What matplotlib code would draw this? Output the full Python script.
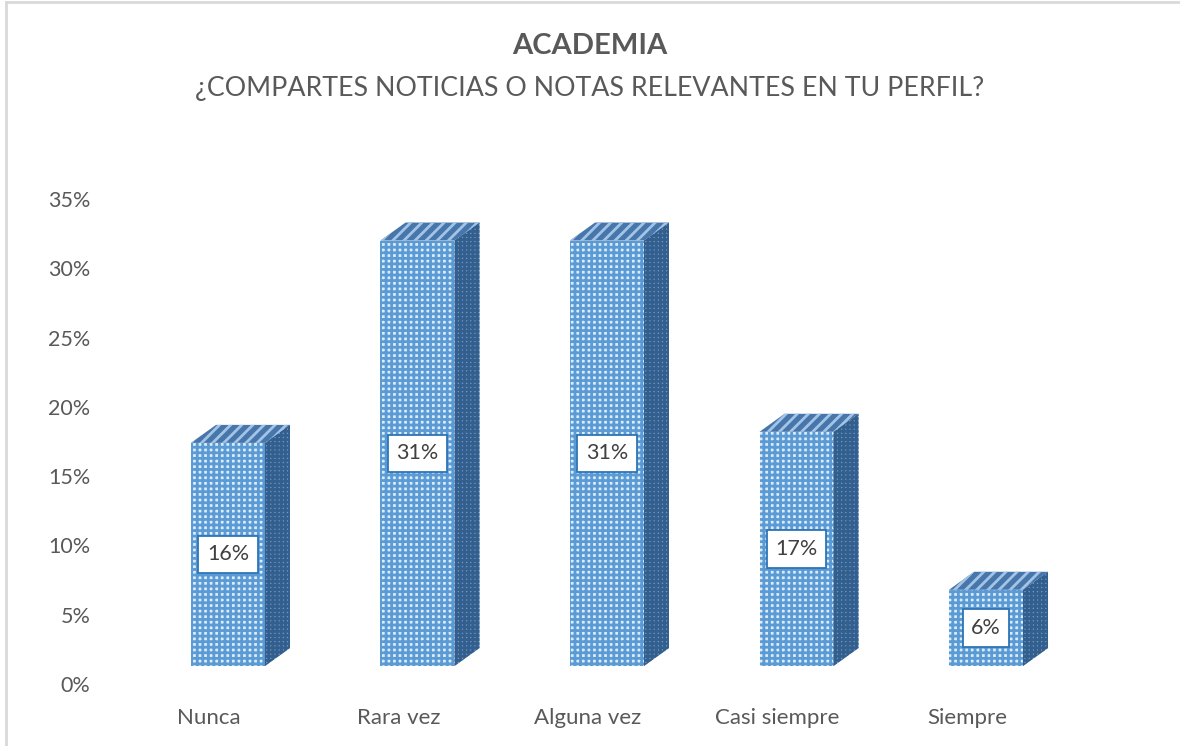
import matplotlib.pyplot as plt
import matplotlib.transforms as mtransforms
from matplotlib.patches import Polygon, Rectangle
from matplotlib.lines import Line2D

# Data
categories = ['Nunca', 'Rara vez', 'Alguna vez', 'Casi siempre', 'Siempre']
values = [0.161, 0.307, 0.307, 0.169, 0.055]
labels = ['16%', '31%', '31%', '17%', '6%']
yticks = [0, 0.05, 0.10, 0.15, 0.20, 0.25, 0.30, 0.35]

plt.rcParams['font.family'] = ['Lato', 'DejaVu Sans']
plt.rcParams['hatch.linewidth'] = 2.0

fig = plt.figure(figsize=(11.8, 7.46), dpi=100)
ax = fig.add_axes([0.0968, 0.0831, 0.803, 0.6502])
ax.set_xlim(-0.5, len(categories) - 0.5)
ax.set_ylim(0, 0.35)

# pixel -> data conversion for the fake 3D depth
px_x = ax.bbox.width / (len(categories))
px_y = ax.bbox.height / 0.35
bar_w = 74 / px_x
depth_x = 25 / px_x
depth_y = 18 / px_y

# bars sit a bit in front of the back wall (perspective)
trans = mtransforms.offset_copy(ax.transData, fig=fig, x=19, y=18, units='dots')

for i, v in enumerate(values):
    x0 = i - bar_w / 2
    x1 = i + bar_w / 2
    # front face
    ax.add_patch(Rectangle((x0, 0), bar_w, v, facecolor='#DCEBF8',
                           edgecolor='#5B9BD5', hatch='+++', linewidth=0,
                           transform=trans, zorder=3))
    # side face
    ax.add_patch(Polygon([(x1, 0), (x1 + depth_x, depth_y),
                          (x1 + depth_x, v + depth_y), (x1, v)],
                         closed=True, facecolor='#7096C0', edgecolor='#335F8E',
                         hatch='++++', linewidth=0, transform=trans, zorder=3))
    # top face
    ax.add_patch(Polygon([(x0, v), (x1, v), (x1 + depth_x, v + depth_y),
                          (x0 + depth_x, v + depth_y)],
                         closed=True, facecolor='#4676AA', edgecolor='#A3C4E6',
                         hatch='///', linewidth=0, transform=trans, zorder=3))
    # data label
    ax.text(i, v / 2, labels[i], transform=trans, ha='center', va='center',
            fontsize=15.5, color='#404040', zorder=5,
            bbox=dict(boxstyle='square,pad=0.4', facecolor='white',
                      edgecolor='#2E75B6', linewidth=1.3))

ax.set_xticks(range(len(categories)))
ax.set_xticklabels(categories)
ax.set_yticks(yticks)
ax.set_yticklabels([f'{int(round(t * 100))}%' for t in yticks])
ax.tick_params(axis='both', length=0, labelsize=15.5, labelcolor='#595959')
ax.tick_params(axis='x', pad=17, labelsize=16)
ax.tick_params(axis='y', pad=17)
for s in ax.spines.values():
    s.set_visible(False)

fig.text(0.5, 0.938, 'ACADEMIA', ha='center', va='center', fontsize=21,
         fontweight='bold', color='#595959')
fig.text(0.5, 0.882, '¿COMPARTES NOTICIAS O NOTAS RELEVANTES EN TU PERFIL?',
         ha='center', va='center', fontsize=19.3, color='#595959')

# chart border (top and left visible)
fig.add_artist(Line2D([0.0055, 1], [0.997, 0.997], color='#D9D9D9', linewidth=2))
fig.add_artist(Line2D([0.0055, 0.0055], [0, 0.997], color='#D9D9D9', linewidth=2))

fig.savefig('out.png', dpi=100)
